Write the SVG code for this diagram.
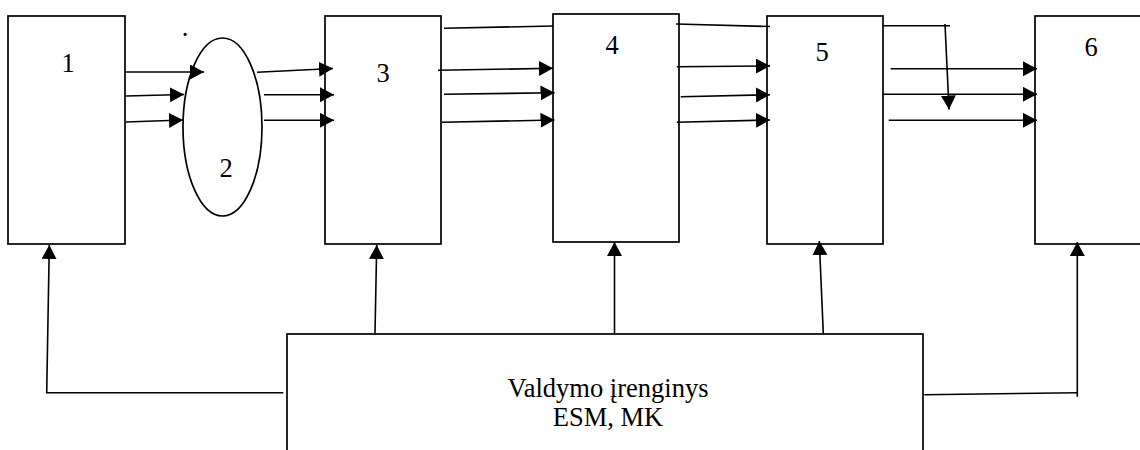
<svg xmlns="http://www.w3.org/2000/svg" width="1140" height="450" viewBox="0 0 1140 450">
<style>
.box{fill:#fff;stroke:#000;stroke-width:1.7}
.ln{fill:none;stroke:#000;stroke-width:1.6}
.lbl{font-family:"Liberation Serif","Times New Roman",serif;font-size:26.5px;fill:#000;text-anchor:middle}
</style>
<defs>
<marker id="ah" markerUnits="userSpaceOnUse" markerWidth="16" markerHeight="16" refX="14" refY="7.5" orient="auto">
<path d="M0,0 L14,7.5 L0,15 z" fill="#000"/>
</marker>
</defs>
<rect width="1140" height="450" fill="#fff"/>
<g id="node1"><rect class="box" x="8" y="16" width="117" height="228"/><text class="lbl" x="68" y="72">1</text></g>
<g id="node2"><ellipse class="box" cx="222.5" cy="127" rx="39.5" ry="89"/><text class="lbl" x="226" y="177">2</text></g>
<g id="node3"><rect class="box" x="325" y="16" width="116" height="228"/><text class="lbl" x="383" y="82">3</text></g>
<g id="node4"><rect class="box" x="553" y="14" width="126" height="228"/><text class="lbl" x="612" y="54">4</text></g>
<g id="node5"><rect class="box" x="767" y="16" width="116" height="228"/><text class="lbl" x="822" y="61">5</text></g>
<g id="node6"><rect class="box" x="1035" y="16" width="120" height="228"/><text class="lbl" x="1091" y="56">6</text></g>
<g id="node7"><rect class="box" x="287" y="334" width="636" height="130"/><text class="lbl" x="608" y="397">Valdymo įrenginys</text><text class="lbl" x="608" y="426">ESM, MK</text></g>
<text class="lbl" x="185" y="36">.</text>
<g id="connectors">
<line class="ln" x1="125" y1="72" x2="204" y2="72" marker-end="url(#ah)"/>
<line class="ln" x1="126" y1="96" x2="184" y2="94.5" marker-end="url(#ah)"/>
<line class="ln" x1="126" y1="122" x2="183" y2="120" marker-end="url(#ah)"/>
<line class="ln" x1="257" y1="72.3" x2="333" y2="68.5" marker-end="url(#ah)"/>
<line class="ln" x1="264" y1="94.7" x2="334" y2="94.7" marker-end="url(#ah)"/>
<line class="ln" x1="264" y1="120.3" x2="334" y2="120.3" marker-end="url(#ah)"/>
<line class="ln" x1="444" y1="28.3" x2="553" y2="26"/>
<line class="ln" x1="438" y1="70.3" x2="553" y2="68.3" marker-end="url(#ah)"/>
<line class="ln" x1="444" y1="94.3" x2="554.5" y2="92.7" marker-end="url(#ah)"/>
<line class="ln" x1="442" y1="122.3" x2="554.5" y2="120" marker-end="url(#ah)"/>
<line class="ln" x1="676" y1="24" x2="770" y2="26.5"/>
<line class="ln" x1="676.7" y1="66.7" x2="770" y2="66" marker-end="url(#ah)"/>
<line class="ln" x1="680.7" y1="96.7" x2="770" y2="94.7" marker-end="url(#ah)"/>
<line class="ln" x1="676.7" y1="122.3" x2="770" y2="120" marker-end="url(#ah)"/>
<line class="ln" x1="883" y1="25.7" x2="950" y2="25.7"/>
<line class="ln" x1="945" y1="24" x2="949" y2="109.5" marker-end="url(#ah)"/>
<line class="ln" x1="890.7" y1="68.7" x2="1037" y2="68.7" marker-end="url(#ah)"/>
<line class="ln" x1="883" y1="94.3" x2="1037" y2="94.3" marker-end="url(#ah)"/>
<line class="ln" x1="888.7" y1="120.3" x2="1037" y2="120.3" marker-end="url(#ah)"/>
<polyline class="ln" points="283.3,392.7 46.7,392.7 49.3,245" marker-end="url(#ah)"/>
<line class="ln" x1="375" y1="333.5" x2="376.7" y2="245" marker-end="url(#ah)"/>
<line class="ln" x1="614.5" y1="333.5" x2="614.5" y2="242" marker-end="url(#ah)"/>
<line class="ln" x1="823.3" y1="333.5" x2="819.3" y2="241" marker-end="url(#ah)"/>
<polyline class="ln" points="924.3,394.7 1077.3,392.7"/>
<line class="ln" x1="1077.3" y1="396.7" x2="1077.3" y2="242" marker-end="url(#ah)"/>
</g>
</svg>
